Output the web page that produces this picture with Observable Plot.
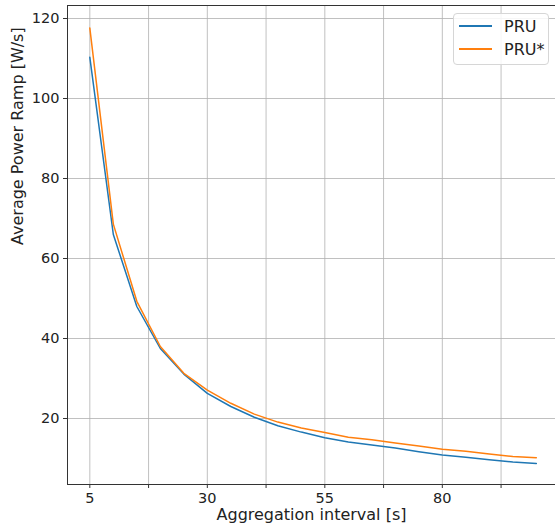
<!DOCTYPE html>
<html><head><meta charset="utf-8">
<script src="https://cdn.jsdelivr.net/npm/d3@7"></script>
<script src="https://cdn.jsdelivr.net/npm/@observablehq/plot@0.6"></script>
<style>
body{margin:0;background:#fff}
#chart{position:relative;width:555px;height:530px;overflow:hidden}
.legend{position:absolute;left:453px;top:13px;width:96px;height:52px;box-sizing:border-box;border:1px solid #d6d6d6;border-radius:4px;background:rgba(255,255,255,0.85);font:16px "DejaVu Sans",sans-serif;color:#222}
.item{position:absolute;left:5px;height:20px;display:flex;align-items:center;white-space:nowrap}
.item span{display:inline-block;width:33px;height:2px;margin-right:12px}
</style></head>
<body><div id="chart"></div>
<script>
const intervals = [5,10,15,20,25,30,35,40,45,50,55,60,65,70,75,80,85,90,95,100];
const pru =     [110.3,66,48,37.5,31.1,26.3,23,20.3,18.2,16.6,15.2,14.1,13.4,12.6,11.7,10.9,10.3,9.7,9.1,8.75];
const pruStar = [117.6,68.6,49.3,38,31.3,27.1,23.8,21.1,19.1,17.6,16.5,15.3,14.7,13.9,13.1,12.3,11.8,11.1,10.5,10.2];
const seriesNames = ["PRU","PRU*"];
const colors = ["#1f77b4","#ff7f0e"];
const xTicks = [5,30,55,80];
const xMinor = [17.5,42.5,67.5,92.5];
const yTicks = [20,40,60,80,100,120];
const xDomain = [0.25, 104.08];
const yDomain = [3.5, 123.25];

const data = [];
intervals.forEach((x,i)=>{ data.push({x, y: pru[i], s: seriesNames[0]}); data.push({x, y: pruStar[i], s: seriesNames[1]}); });

const font = '"DejaVu Sans", sans-serif';
const chart = Plot.plot({
  width: 555, height: 530,
  marginLeft: 67, marginRight: 0, marginTop: 5, marginBottom: 46,
  style: {fontFamily: font, fontSize: "14.5px", color: "#222", background: "#fff"},
  x: {domain: xDomain},
  y: {domain: yDomain},
  color: {domain: seriesNames, range: colors},
  marks: [
    Plot.gridX([...xTicks, ...xMinor], {stroke: "#b0b0b0", strokeOpacity: 1, strokeWidth: 0.8}),
    Plot.gridY(yTicks, {stroke: "#b0b0b0", strokeOpacity: 1, strokeWidth: 0.8}),
    Plot.line(data, {x: "x", y: "y", stroke: "s", strokeWidth: 1.5}),
    Plot.axisX(xTicks, {tickSize: 4, tickPadding: 4, fontSize: 14.5, label: null, stroke: "#333"}),
    Plot.axisX(xMinor, {tickSize: 4, tickFormat: () => "", label: null, stroke: "#333"}),
    Plot.axisY(yTicks, {tickSize: 4, tickPadding: 4, fontSize: 14.5, label: null, stroke: "#333"}),
    Plot.ruleX([xDomain[0]], {stroke: "#333", strokeWidth: 1}),
    Plot.ruleY([yDomain[0]], {stroke: "#333", strokeWidth: 1}),
    Plot.ruleY([yDomain[1]], {stroke: "#333", strokeWidth: 1}),
    Plot.text(["Aggregation interval [s]"], {frameAnchor: "bottom", dy: 35, text: d => d, fontSize: 16, fill: "#222"}),
    Plot.text(["Average Power Ramp [W/s]"], {frameAnchor: "left", dx: -50, rotate: -90, text: d => d, fontSize: 16, fill: "#222"})
  ]
});
const host = document.getElementById("chart");
host.appendChild(chart);
const leg = document.createElement("div");
leg.className = "legend";
seriesNames.forEach((n,i)=>{
  const it = document.createElement("div");
  it.className = "item";
  it.style.top = (2 + i*23) + "px";
  it.innerHTML = `<span style="background:${colors[i]}"></span>${n}`;
  leg.appendChild(it);
});
host.appendChild(leg);
</script></body></html>
